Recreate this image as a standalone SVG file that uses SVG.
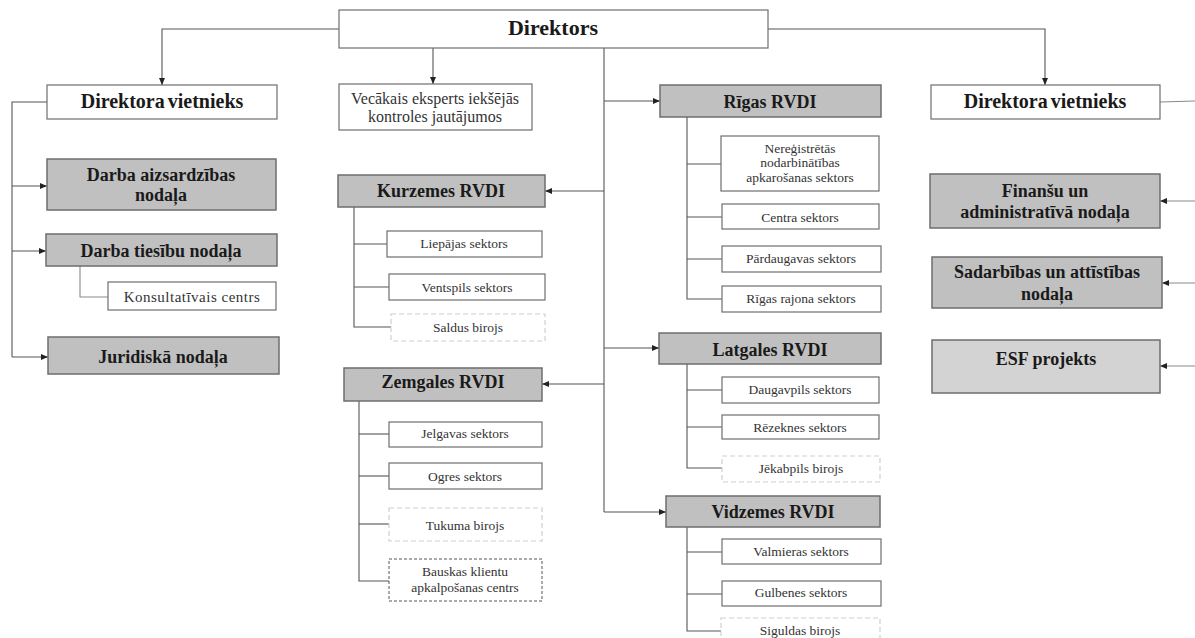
<svg xmlns="http://www.w3.org/2000/svg" width="1195" height="638" viewBox="0 0 1195 638">
<style>
.box{fill:#ffffff;stroke:#6e6e6e;stroke-width:1.2}
.g{fill:#c0c0c0;stroke:#6e6e6e;stroke-width:1.5}
.gl{fill:#d3d3d3;stroke:#6e6e6e;stroke-width:1.5}
.dl{fill:#ffffff;stroke:#cfcfcf;stroke-width:1.2;stroke-dasharray:5 3}
.dd{fill:#ffffff;stroke:#555555;stroke-width:1;stroke-dasharray:3 2}
.ln{fill:none;stroke:#555555;stroke-width:1.1}
.lnl{fill:none;stroke:#8a8a8a;stroke-width:1.1}
.arr{marker-end:url(#ah)}
text{font-family:"Liberation Serif","Times New Roman",serif;fill:#1a1a1a;text-anchor:middle}
.b{font-weight:bold;font-size:18px}
.big{font-weight:bold;font-size:22px}
.dv{font-weight:bold;font-size:20px;word-spacing:-2px}
.s{font-size:13.5px;fill:#333}
.m{font-size:16px;fill:#333}
.k{font-size:15px;fill:#333;letter-spacing:0.5px}
</style>
<defs>
<marker id="ah" markerWidth="8" markerHeight="8" refX="7" refY="4" orient="auto" markerUnits="userSpaceOnUse">
<path d="M0,1 L7,4 L0,7 Z" fill="#222"/>
</marker>
</defs>

<g id="connectors">
<polyline class="ln arr" points="339,29 162,29 162,85"/>
<polyline class="ln arr" points="768,29 1045,29 1045,85"/>
<line class="ln arr" x1="433" y1="48" x2="433" y2="84"/>
<line class="ln" x1="604" y1="48" x2="604" y2="512"/>
<line class="ln arr" x1="604" y1="101" x2="660" y2="101"/>
<line class="ln arr" x1="604" y1="191" x2="545" y2="191"/>
<line class="ln arr" x1="604" y1="384" x2="542" y2="384"/>
<line class="ln arr" x1="604" y1="348" x2="659" y2="348"/>
<line class="ln arr" x1="604" y1="512" x2="666" y2="512"/>
<!-- left deputy -->
<polyline class="ln" points="47,102 12,102 12,357"/>
<line class="ln arr" x1="12" y1="186" x2="47" y2="186"/>
<line class="ln arr" x1="12" y1="251" x2="46" y2="251"/>
<line class="ln arr" x1="12" y1="357" x2="48" y2="357"/>
<polyline class="lnl" points="80,266 80,297 108,297"/>
<!-- right deputy -->
<line class="lnl" x1="1160" y1="102" x2="1195" y2="101"/>
<line class="lnl arr" x1="1195" y1="201" x2="1160" y2="201"/>
<line class="lnl arr" x1="1195" y1="283" x2="1162" y2="283"/>
<line class="lnl arr" x1="1195" y1="366" x2="1160" y2="366"/>
<!-- Kurzemes -->
<polyline class="ln" points="354,207 354,327 391,327"/>
<line class="ln" x1="354" y1="244" x2="387" y2="244"/>
<line class="ln" x1="354" y1="287" x2="389" y2="287"/>
<!-- Zemgales -->
<polyline class="ln" points="359,401 359,581 389,581"/>
<line class="ln" x1="359" y1="434" x2="389" y2="434"/>
<line class="ln" x1="359" y1="476" x2="389" y2="476"/>
<line class="ln" x1="359" y1="524" x2="389" y2="524"/>
<!-- Rigas -->
<polyline class="ln" points="687,117 687,299 722,299"/>
<line class="ln" x1="687" y1="164" x2="721" y2="164"/>
<line class="ln" x1="687" y1="217" x2="722" y2="217"/>
<line class="ln" x1="687" y1="259" x2="722" y2="259"/>
<!-- Latgales -->
<polyline class="ln" points="687,364 687,468 722,468"/>
<line class="ln" x1="687" y1="390" x2="722" y2="390"/>
<line class="ln" x1="687" y1="427" x2="722" y2="427"/>
<!-- Vidzemes -->
<polyline class="ln" points="687,527 687,631 721,631"/>
<line class="ln" x1="687" y1="552" x2="722" y2="552"/>
<line class="ln" x1="687" y1="594" x2="722" y2="594"/>
</g>

<g id="direktors"><rect class="box" x="339" y="10" width="429" height="38"/><text class="big" x="553" y="35">Direktors</text></g>
<g id="dv-left"><rect class="box" x="47" y="85" width="230" height="34"/><text class="dv" x="162" y="108">Direktora vietnieks</text></g>
<g id="dv-right"><rect class="box" x="931" y="85" width="229" height="34"/><text class="dv" x="1045" y="108">Direktora vietnieks</text></g>
<g id="vecakais"><rect class="box" x="339" y="84" width="193" height="46"/><text class="m" x="435" y="104">Vecākais eksperts iekšējās</text><text class="m" x="435" y="122">kontroles jautājumos</text></g>

<g id="darba-aizsardzibas"><rect class="g" x="47" y="159" width="229" height="51"/><text class="b" x="161" y="181">Darba aizsardzības</text><text class="b" x="161" y="201">nodaļa</text></g>
<g id="darba-tiesibu"><rect class="g" x="46" y="234" width="231" height="32"/><text class="b" x="161" y="257">Darba tiesību nodaļa</text></g>
<g id="konsultativais"><rect class="box" x="108" y="282" width="168" height="28"/><text class="k" x="192" y="302">Konsultatīvais centrs</text></g>
<g id="juridiska"><rect class="g" x="48" y="337" width="231" height="37"/><text class="b" x="163" y="363">Juridiskā nodaļa</text></g>

<g id="kurzemes"><rect class="g" x="338" y="175" width="207" height="32"/><text class="b" x="441" y="197">Kurzemes RVDI</text></g>
<g id="liepajas"><rect class="box" x="387" y="231" width="155" height="26"/><text class="s" x="464" y="248">Liepājas sektors</text></g>
<g id="ventspils"><rect class="box" x="389" y="274" width="156" height="26"/><text class="s" x="467" y="292">Ventspils sektors</text></g>
<g id="saldus"><rect class="dl" x="391" y="314" width="154" height="27"/><text class="s" x="468" y="332">Saldus birojs</text></g>

<g id="zemgales"><rect class="g" x="344" y="368" width="198" height="33"/><text class="b" x="443" y="388">Zemgales RVDI</text></g>
<g id="jelgavas"><rect class="box" x="389" y="422" width="153" height="25"/><text class="s" x="465" y="438">Jelgavas sektors</text></g>
<g id="ogres"><rect class="box" x="389" y="463" width="153" height="26"/><text class="s" x="465" y="481">Ogres sektors</text></g>
<g id="tukuma"><rect class="dl" x="389" y="508" width="153" height="33"/><text class="s" x="465" y="530">Tukuma birojs</text></g>
<g id="bauskas"><rect class="dd" x="389" y="559" width="153" height="42"/><text class="s" x="465" y="576">Bauskas klientu</text><text class="s" x="465" y="592">apkalpošanas centrs</text></g>

<g id="rigas"><rect class="g" x="660" y="85" width="221" height="32"/><text class="b" x="770" y="108">Rīgas RVDI</text></g>
<g id="neregistretas"><rect class="box" x="721" y="136" width="158" height="55"/><text class="s" x="800" y="153">Nereģistrētās</text><text class="s" x="800" y="167">nodarbinātības</text><text class="s" x="800" y="182">apkarošanas sektors</text></g>
<g id="centra"><rect class="box" x="722" y="204" width="157" height="25"/><text class="s" x="800" y="222">Centra sektors</text></g>
<g id="pardaugavas"><rect class="box" x="722" y="246" width="159" height="26"/><text class="s" x="801" y="263">Pārdaugavas  sektors</text></g>
<g id="rigas-rajona"><rect class="box" x="722" y="286" width="159" height="26"/><text class="s" x="801" y="303">Rīgas rajona sektors</text></g>

<g id="latgales"><rect class="g" x="659" y="333" width="222" height="31"/><text class="b" x="770" y="356">Latgales RVDI</text></g>
<g id="daugavpils"><rect class="box" x="722" y="377" width="157" height="26"/><text class="s" x="800" y="394">Daugavpils sektors</text></g>
<g id="rezeknes"><rect class="box" x="722" y="415" width="157" height="24"/><text class="s" x="800" y="432">Rēzeknes sektors</text></g>
<g id="jekabpils"><rect class="dl" x="722" y="456" width="158" height="26"/><text class="s" x="801" y="473">Jēkabpils birojs</text></g>

<g id="vidzemes"><rect class="g" x="666" y="496" width="214" height="31"/><text class="b" x="773" y="518">Vidzemes RVDI</text></g>
<g id="valmieras"><rect class="box" x="722" y="539" width="159" height="25"/><text class="s" x="801" y="556">Valmieras sektors</text></g>
<g id="gulbenes"><rect class="box" x="722" y="581" width="159" height="25"/><text class="s" x="801" y="597">Gulbenes sektors</text></g>
<g id="siguldas"><rect class="dl" x="721" y="618" width="159" height="30"/><text class="s" x="800" y="635">Siguldas birojs</text></g>

<g id="finansu"><rect class="g" x="930" y="174" width="230" height="54"/><text class="b" x="1045" y="197">Finanšu un</text><text class="b" x="1045" y="218">administratīvā  nodaļa</text></g>
<g id="sadarbibas"><rect class="g" x="932" y="257" width="230" height="51"/><text class="b" x="1047" y="278">Sadarbības un attīstības</text><text class="b" x="1047" y="300">nodaļa</text></g>
<g id="esf"><rect class="gl" x="932" y="340" width="228" height="53"/><text class="b" x="1046" y="365">ESF projekts</text></g>
</svg>
